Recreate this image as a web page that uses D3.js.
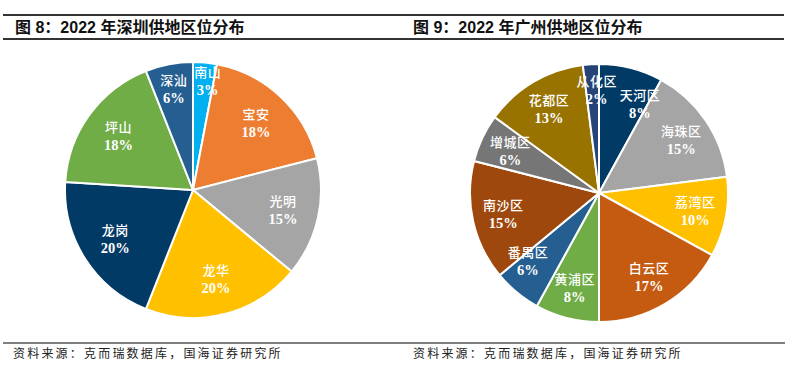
<!DOCTYPE html>
<html><head><meta charset="utf-8">
<script src="https://cdn.jsdelivr.net/npm/d3@7/dist/d3.min.js"></script>
<style>body{margin:0;background:#fff;}</style>
</head><body>
<svg id="c" width="794" height="378"></svg>
<script>
const titleLeft = "图 8：2022 年深圳供地区位分布";
const titleRight = "图 9：2022 年广州供地区位分布";
const sourceText = "资料来源：克而瑞数据库，国海证券研究所";

const szNames = ["南山","宝安","光明","龙华","龙岗","坪山","深汕"];
const szValues = [3,18,15,20,20,18,6];
const szColors = ["#00B0F0","#ED7D31","#A5A5A5","#FFC000","#023A66","#70AD47","#255E91"];

const gzNames = ["天河区","海珠区","荔湾区","白云区","黄浦区","番禺区","南沙区","增城区","花都区","从化区"];
const gzValues = [8,15,10,17,8,6,15,6,13,2];
const gzColors = ["#023A66","#A5A5A5","#FFC000","#C55A11","#70AD47","#255E91","#9E480E","#767676","#997300","#264478"];

const svg = d3.select("#c");

// frame lines
svg.append("line").attr("x1",3).attr("x2",784).attr("y1",15).attr("y2",15).attr("stroke","#333").attr("stroke-width",1.8);
svg.append("line").attr("x1",3).attr("x2",784).attr("y1",39).attr("y2",39).attr("stroke","#333").attr("stroke-width",1.8);
svg.append("line").attr("x1",3).attr("x2",785).attr("y1",343).attr("y2",343).attr("stroke","#555").attr("stroke-width",1.6);

const titleFont = "'Liberation Sans','Noto Sans CJK SC',sans-serif";
[[15,titleLeft],[413,titleRight]].forEach(([x,t])=>{
  svg.append("text").attr("x",x).attr("y",33).text(t)
    .attr("font-family",titleFont).attr("font-weight","bold").attr("font-size",16).attr("fill","#111");
});
[[13,sourceText],[413,sourceText]].forEach(([x,t])=>{
  svg.append("text").attr("x",x).attr("y",358).text(t)
    .attr("font-family","'Noto Sans CJK SC',sans-serif").attr("font-size",12).attr("letter-spacing",2.2).attr("fill","#222");
});

function drawPie(cx, cy, r, names, values, colors, labelR){
  const g = svg.append("g").attr("transform",`translate(${cx},${cy})`);
  const pie = d3.pie().sort(null).value(d=>d.v);
  const data = pie(names.map((n,i)=>({n, v:values[i], c:colors[i]})));
  const arc = d3.arc().innerRadius(0).outerRadius(r);
  g.selectAll("path").data(data).join("path")
    .attr("d",arc).attr("fill",d=>d.data.c)
    .attr("stroke","#fff").attr("stroke-width",2).attr("stroke-linejoin","round");
  // label positions: centroid angle, nudged clockwise if overlapping the preceding label
  const labels = data.map(d=>({d, a:(d.startAngle+d.endAngle)/2, lr: labelR(d.data.v)*r, w: d.data.n.length*14}));
  const pos = l => [Math.sin(l.a)*l.lr, -Math.cos(l.a)*l.lr];
  const overlap = (p,q) => {
    const [x1,y1]=pos(p),[x2,y2]=pos(q);
    return Math.abs(x1-x2) < (p.w+q.w)/2 + 4 && Math.abs(y1-y2) < 34;
  };
  const n = labels.length;
  for (let i=0;i<n;i++){
    const prev = labels[(i-1+n)%n];
    let guard=0;
    while (overlap(labels[i],prev) && guard<30){ labels[i].a += 0.02; guard++; }
  }
  labels.forEach(l=>{
    const [x,y] = pos(l);
    const t = g.append("text").attr("text-anchor","middle").attr("fill","#fff");
    t.append("tspan").attr("x",x).attr("y",y-4).text(l.d.data.n)
      .attr("font-family","'Noto Sans CJK SC',sans-serif").attr("font-size",13).attr("letter-spacing",0.5).attr("font-weight","500");
    t.append("tspan").attr("x",x).attr("y",y+14).text(l.d.data.v+"%")
      .attr("font-family","'Liberation Serif',serif").attr("font-size",14.5).attr("font-weight","bold");
  });
}

drawPie(193, 190, 128, szNames, szValues, szColors, v => v<5 ? 0.86 : v<8 ? 0.8 : 0.72);
drawPie(599, 193, 129, gzNames, gzValues, gzColors, v => v<5 ? 0.8 : 0.76);
</script>
</body></html>
